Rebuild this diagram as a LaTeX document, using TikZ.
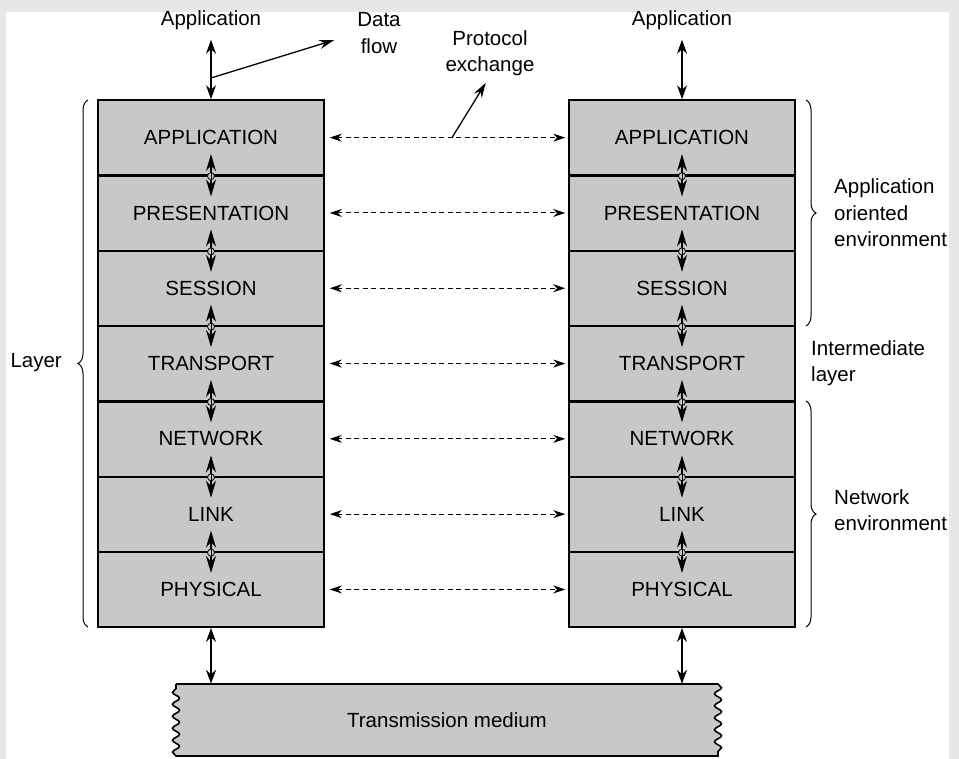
\documentclass[tikz,border=0pt]{standalone}
\usepackage{fontspec}
\setmainfont{Liberation Sans}
\usetikzlibrary{arrows.meta,decorations.pathmorphing,decorations.pathreplacing,calc}
\definecolor{framegray}{HTML}{E6E7E9}
\definecolor{boxgray}{HTML}{C8C8C8}
\begin{document}
\begin{tikzpicture}[x=1pt,y=-1pt,
  font=\fontsize{20.5}{26.5}\selectfont,
  layerbox/.style={draw, line width=1.6pt, fill=boxgray, minimum width=226pt, minimum height=75.3pt, inner sep=0pt},
  sep/.style={line width=1.6pt},
  txt/.style={inner sep=0pt, align=center},
  ltxt/.style={inner sep=0pt, align=left, anchor=west},
  dtip/.style={{Stealth[length=14pt,width=10pt]}-{Stealth[length=14pt,width=10pt]}, line width=1.3pt},
  itip/.style={{Stealth[length=17pt,width=10pt]}-{Stealth[length=17pt,width=10pt]}, line width=1.2pt},
  stip/.style={-{Stealth[length=15pt,width=9pt]}, line width=1.3pt},
  dashtip/.style={{Stealth[length=12pt,width=8pt]}-{Stealth[length=12pt,width=8pt]}, line width=1pt, dash pattern=on 5pt off 3.5pt},
  bracestyle/.style={line width=1pt, decorate, decoration={brace, amplitude=10pt}}
]
% frame
\fill[framegray] (0,0) rectangle (959,759);
\fill[white] (6,12) rectangle (949,759);
\useasboundingbox (0,0) rectangle (959,759);

% layer stacks
\foreach \n/\t [count=\i] in {1/APPLICATION,2/PRESENTATION,3/SESSION,4/TRANSPORT,5/NETWORK,6/LINK,7/PHYSICAL}{
  \node[layerbox] (L\n) at (211,{100+75.3*(\i-0.5)}) {\t};
  \node[layerbox] (R\n) at (682,{100+75.3*(\i-0.5)}) {\t};
}

% separators redrawn on top, inter-layer arrows
\foreach \a/\b in {1/2,2/3,3/4,4/5,5/6,6/7}{
  \draw[sep] (L\a.south west) -- (L\a.south east);
  \draw[sep] (R\a.south west) -- (R\a.south east);
  \draw[itip] ([yshift=22pt]L\a.south) -- ([yshift=-22pt]L\b.north);
  \draw[itip] ([yshift=22pt]R\a.south) -- ([yshift=-22pt]R\b.north);
  \draw[line width=0.8pt, fill=boxgray] (L\a.south) circle[radius=3.5pt];
  \draw[line width=0.8pt, fill=boxgray] (R\a.south) circle[radius=3.5pt];
  \draw[line width=0.8pt] ([yshift=3.5pt]L\a.south) -- ([yshift=-3.5pt]L\a.south);
  \draw[line width=0.8pt] ([yshift=3.5pt]R\a.south) -- ([yshift=-3.5pt]R\a.south);
}

% protocol exchange dashed arrows
\foreach \n in {1,...,7}{
  \draw[dashtip] ([xshift=5pt]L\n.east) -- ([xshift=-3pt]R\n.west);
}

% top labels and arrows
\node[txt] (appL) at (211,20) {Application};
\node[txt] (appR) at (682,20) {Application};
\coordinate (appLb) at ([yshift=-10pt]appL.south);
\coordinate (appRb) at ([yshift=-10pt]appR.south);
\draw[dtip] (appLb) -- (L1.north);
\draw[dtip] (appRb) -- (R1.north);

\node[txt] (dataflow) at (379,33) {Data\\flow};
\coordinate (dfTail) at (211,78);
\draw[stip, shorten >=24pt] (dfTail) -- (dataflow.west);

\node[txt] (protex) at (490,53) {Protocol\\exchange};
\coordinate (peTail) at (452,137.65);
\draw[stip, shorten >=8pt] (peTail) -- (protex.south);

% transmission medium
\draw[line width=1.6pt, fill=boxgray, decoration={snake, amplitude=3.5pt, segment length=12pt}]
  (176,684) -- (718,684) decorate{-- (718,756)} -- (176,756) decorate{-- (176,684)} -- cycle;
\node[txt, minimum width=540pt, minimum height=72pt] (med) at (447,720) {Transmission medium};
\draw[dtip] (L7.south) -- (L7.south |- med.north);
\draw[dtip] (R7.south) -- (R7.south |- med.north);

% braces
\draw[bracestyle] (88,627) -- (88,100);
\node[txt, anchor=east] (layerlbl) at (62,363) {Layer};

\draw[bracestyle] (806,100) -- (806,326);
\node[ltxt] (aoe) at (834,213) {Application\\oriented\\environment};
\node[ltxt] (intl) at (811,363) {Intermediate\\layer};
\draw[bracestyle] (806,401) -- (806,627);
\node[ltxt] (netenv) at (834,510) {Network\\environment};
\end{tikzpicture}
\end{document}
